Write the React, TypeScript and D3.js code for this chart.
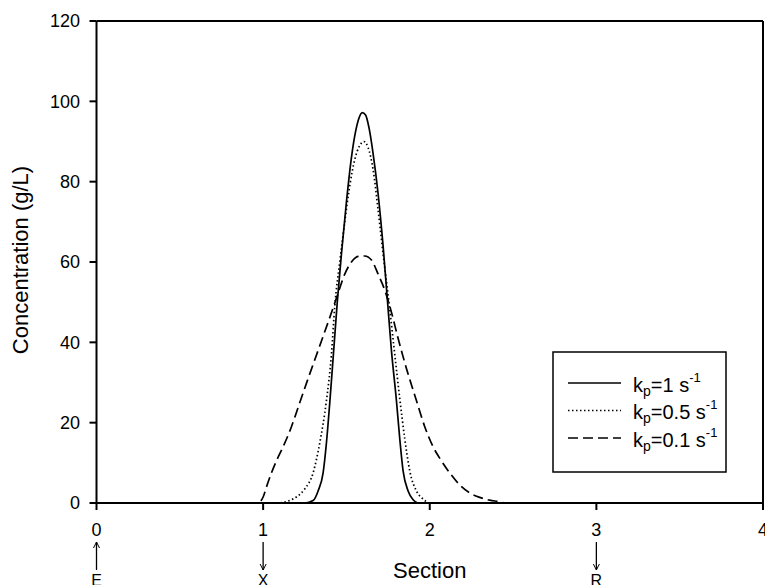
import React from "react";
import * as d3 from "d3";

const W = 765;
const H = 585;

const xTicks = [0, 1, 2, 3, 4];
const yTicks = [0, 20, 40, 60, 80, 100, 120];

const solidX = [0, 1.25, 1.3, 1.33, 1.36, 1.38, 1.4, 1.42, 1.445, 1.47, 1.5, 1.53, 1.555, 1.575, 1.595, 1.615, 1.635, 1.66, 1.69, 1.72, 1.745, 1.77, 1.8, 1.82, 1.84, 1.87, 1.9, 1.93, 4];
const solidY = [0, 0, 0.6, 3, 7.5, 15, 25, 36, 50, 62, 75, 86, 92.5, 95.8, 97.2, 96.6, 93.5, 87, 77, 64, 51, 38, 25.5, 16, 8, 3, 0.8, 0, 0];

const dottedX = [0, 1.08, 1.15, 1.2, 1.25, 1.3, 1.34, 1.38, 1.41, 1.43, 1.46, 1.49, 1.52, 1.55, 1.58, 1.605, 1.63, 1.66, 1.69, 1.72, 1.755, 1.79, 1.82, 1.85, 1.88, 1.92, 1.96, 2.0, 4];
const dottedY = [0, 0, 0.5, 1.5, 3.5, 7.5, 15, 25.5, 37, 49, 60, 70, 79, 85.5, 89, 90, 88.5, 83, 73, 62, 50, 37, 26, 16, 8, 3, 1, 0, 0];

const dashedX = [0, 0.95, 0.98, 1.0, 1.02, 1.05, 1.08, 1.12, 1.17, 1.22, 1.27, 1.33, 1.39, 1.44, 1.49, 1.53, 1.57, 1.61, 1.65, 1.69, 1.73, 1.77, 1.81, 1.86, 1.92, 1.97, 2.02, 2.07, 2.12, 2.18, 2.24, 2.3, 2.36, 2.42, 2.45, 4];
const dashedY = [0, 0, 0.3, 1.5, 4, 7.5, 10.5, 14, 19, 25, 31, 38, 45, 51, 57, 60, 61.4, 61.5, 60.5, 57, 53, 47.5, 41, 33.5, 25.5, 19, 14, 10.5, 7.5, 4.5, 2.5, 1.4, 0.7, 0.3, 0, 0];

const seriesNames = ["1", "0.5", "0.1"];
const dashes = ["none", "1.5,2.5", "10,5"];

const markers = [
  { x: 0, label: "E", dir: "up" },
  { x: 1, label: "X", dir: "down" },
  { x: 3, label: "R", dir: "down" },
];

export default function App() {
  const x = d3.scaleLinear().domain([0, 4]).range([96.5, 763]);
  const y = d3.scaleLinear().domain([0, 120]).range([503, 21]);
  const line = d3
    .line<[number, number]>()
    .x((d) => x(d[0]))
    .y((d) => y(d[1]))
    .curve(d3.curveMonotoneX);

  const series = [
    solidX.map((v, i) => [v, solidY[i]] as [number, number]),
    dottedX.map((v, i) => [v, dottedY[i]] as [number, number]),
    dashedX.map((v, i) => [v, dashedY[i]] as [number, number]),
  ];
  const font = "Liberation Sans, Arial, sans-serif";

  return (
    <svg
      width={W}
      height={H}
      style={{ position: "absolute", left: 0, top: 0, background: "#fff" }}
      fontFamily={font}
    >
      <rect x={0} y={0} width={W} height={H} fill="#fff" />
      {series.map((s, i) => (
        <path
          key={i}
          d={line(s) || ""}
          fill="none"
          stroke="#000"
          strokeWidth={1.7}
          strokeDasharray={dashes[i]}
        />
      ))}
      {/* frame */}
      <line x1={x(0)} x2={x(4)} y1={y(120)} y2={y(120)} stroke="#000" strokeWidth={2} />
      <line x1={x(4)} x2={x(4)} y1={y(120)} y2={y(0)} stroke="#000" strokeWidth={2} />
      <line x1={x(0)} x2={x(4)} y1={y(0)} y2={y(0)} stroke="#000" strokeWidth={2} />
      <line x1={x(0)} x2={x(0)} y1={y(120)} y2={y(0)} stroke="#000" strokeWidth={2} />
      {yTicks.map((t) => (
        <g key={"y" + t}>
          <line x1={x(0) - 7} x2={x(0)} y1={y(t)} y2={y(t)} stroke="#000" strokeWidth={2} />
          <text x={80} y={y(t)} dy="0.35em" textAnchor="end" fontSize={18}>
            {t}
          </text>
        </g>
      ))}
      {xTicks.map((t) => (
        <g key={"x" + t}>
          <line x1={x(t)} x2={x(t)} y1={y(0)} y2={y(0) + 7} stroke="#000" strokeWidth={2} />
          <text x={x(t)} y={536} textAnchor="middle" fontSize={18}>
            {t}
          </text>
        </g>
      ))}
      {markers.map((m) => {
        const cx = x(m.x);
        const top = 542;
        const bot = 570;
        const head = m.dir === "up" ? top : bot;
        const s = m.dir === "up" ? 1 : -1;
        return (
          <g key={m.label}>
            <line x1={cx} x2={cx} y1={top} y2={bot} stroke="#000" strokeWidth={1.3} />
            <path
              d={`M${cx - 3},${head + s * 6} L${cx},${head} L${cx + 3},${head + s * 6}`}
              fill="none"
              stroke="#000"
              strokeWidth={1}
            />
            <text x={cx} y={586} textAnchor="middle" fontSize={16}>
              {m.label}
            </text>
          </g>
        );
      })}
      <text x={x(2)} y={578} textAnchor="middle" fontSize={22}>
        Section
      </text>
      <text
        transform={`translate(28,260) rotate(-90)`}
        textAnchor="middle"
        fontSize={22}
      >
        Concentration (g/L)
      </text>
      {/* legend */}
      <rect x={553} y={352} width={173} height={120} fill="#fff" stroke="#000" strokeWidth={1.5} />
      {seriesNames.map((n, i) => {
        const ly = 383 + i * 27.5;
        return (
          <g key={n}>
            <line x1={568} x2={621} y1={ly} y2={ly} stroke="#000" strokeWidth={1.7} strokeDasharray={dashes[i]} />
            <text x={633} y={ly + 8.5} fontSize={20}>
              k<tspan fontSize={14} dy={4}>p</tspan>
              <tspan dy={-4}>={n} s</tspan>
              <tspan fontSize={13} dy={-10}>-1</tspan>
            </text>
          </g>
        );
      })}
    </svg>
  );
}
